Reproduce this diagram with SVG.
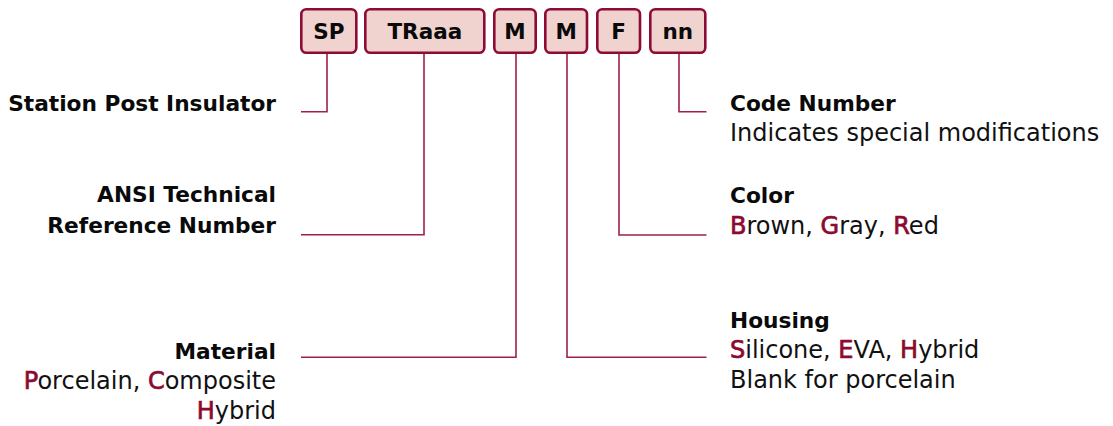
<svg xmlns="http://www.w3.org/2000/svg" width="1113" height="426" viewBox="0 0 1113 426">
<style>
.box{fill:#F0D2CE;stroke:#8E0B35;stroke-width:2.6}
.bt{font-family:"DejaVu Sans",sans-serif;font-weight:bold;font-size:21.5px;fill:#0A0A0A;text-anchor:middle}
.lb{font-family:"DejaVu Sans",sans-serif;font-weight:bold;font-size:21.7px;fill:#0A0A0A}
.ds{font-family:"DejaVu Sans",sans-serif;font-size:24px;fill:#111}
.r{fill:#8C0A30;stroke:#8C0A30;stroke-width:0.7}
.end{text-anchor:end}
.conn path{fill:none;stroke:#9E2148;stroke-width:1.6}
</style>
<rect width="1113" height="426" fill="#fff"/>
<g id="box-sp"><rect class="box" x="301.3" y="9.3" width="55" height="43.4" rx="5"/><text class="bt" x="328.8" y="39">SP</text></g>
<g id="box-traaa"><rect class="box" x="365.3" y="9.3" width="119" height="43.4" rx="5"/><text class="bt" x="424.8" y="39">TRaaa</text></g>
<g id="box-m1"><rect class="box" x="494.3" y="9.3" width="41.4" height="43.4" rx="5"/><text class="bt" x="515" y="39">M</text></g>
<g id="box-m2"><rect class="box" x="545.3" y="9.3" width="41.7" height="43.4" rx="5"/><text class="bt" x="566.2" y="39">M</text></g>
<g id="box-f"><rect class="box" x="597.3" y="9.3" width="42.7" height="43.4" rx="5"/><text class="bt" x="618.7" y="39">F</text></g>
<g id="box-nn"><rect class="box" x="650.3" y="9.3" width="55" height="43.4" rx="5"/><text class="bt" x="677.8" y="39">nn</text></g>
<g class="conn" id="connectors">
<path d="M327,54 V111.7 H301"/>
<path d="M424,54 V234.7 H301"/>
<path d="M516,54 V357.3 H301"/>
<path d="M567,54 V357.3 H706.5"/>
<path d="M619,54 V235 H706.5"/>
<path d="M679,54 V111.7 H706.5"/>
</g>
<g id="label-station">
<text class="lb end" x="276" y="111">Station Post Insulator</text>
</g>
<g id="label-ansi">
<text class="lb end" x="276" y="202">ANSI Technical</text>
<text class="lb end" x="276" y="233">Reference Number</text>
</g>
<g id="label-material">
<text class="lb end" x="276" y="359">Material</text>
<text class="ds end" x="276" y="389"><tspan class="r">P</tspan>orcelain, <tspan class="r">C</tspan>omposite</text>
<text class="ds end" x="276" y="419"><tspan class="r">H</tspan>ybrid</text>
</g>
<g id="label-code">
<text class="lb" x="730" y="111">Code Number</text>
<text class="ds" x="730" y="141">Indicates special modifications</text>
</g>
<g id="label-color">
<text class="lb" x="730" y="203">Color</text>
<text class="ds" x="730" y="234"><tspan class="r">B</tspan>rown, <tspan class="r">G</tspan>ray, <tspan class="r">R</tspan>ed</text>
</g>
<g id="label-housing">
<text class="lb" x="730" y="328">Housing</text>
<text class="ds" x="730" y="358"><tspan class="r">S</tspan>ilicone, <tspan class="r">E</tspan>VA, <tspan class="r">H</tspan>ybrid</text>
<text class="ds" x="730" y="388">Blank for porcelain</text>
</g>
</svg>
